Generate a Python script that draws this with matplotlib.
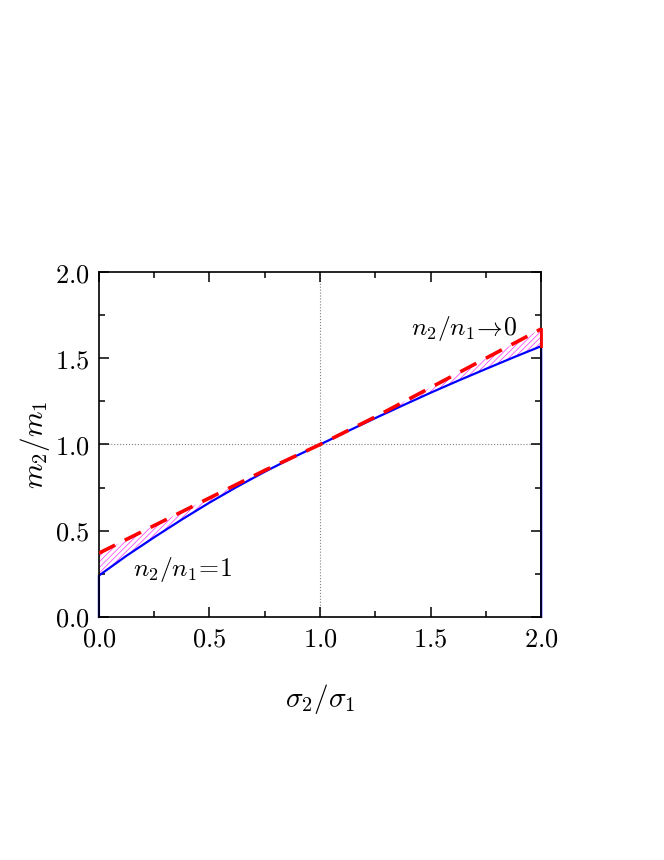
import matplotlib
matplotlib.use("Agg")
import matplotlib.pyplot as plt
from matplotlib.ticker import MultipleLocator, FormatStrFormatter

plt.rcParams["mathtext.fontset"] = "cm"
plt.rcParams["font.family"] = "serif"
plt.rcParams["hatch.linewidth"] = 0.4
plt.rcParams["hatch.color"] = "magenta"

# sigma2/sigma1
sigma_ratio = [0.0, 0.125, 0.25, 0.375, 0.5, 0.625, 0.75, 0.875, 1.0,
               1.125, 1.25, 1.375, 1.5, 1.625, 1.75, 1.875, 2.0]
# m2/m1 for n2/n1 = 1 (solid)
m_equal = [0.24, 0.355, 0.462, 0.565, 0.663, 0.755, 0.842, 0.923, 1.0,
           1.077, 1.153, 1.227, 1.30, 1.37, 1.438, 1.505, 1.57]
# m2/m1 for n2/n1 -> 0 (dashed)
m_limit = [0.37, 0.45, 0.53, 0.61, 0.69, 0.77, 0.85, 0.925, 1.0,
           1.08, 1.16, 1.245, 1.33, 1.415, 1.50, 1.585, 1.67]

fig = plt.figure(figsize=(6.64, 8.6), dpi=100)
ax = fig.add_axes([0.149, 0.2826, 0.666, 0.4011])

ax.axvline(1.0, color="gray", lw=0.8, ls=":", zorder=1)
ax.axhline(1.0, color="gray", lw=0.8, ls=":", zorder=1)

ax.fill_between(sigma_ratio, m_equal, m_limit, facecolor="none",
                hatch="//////", edgecolor="magenta", lw=0, zorder=2)

ax.plot([sigma_ratio[0]] + sigma_ratio + [sigma_ratio[-1]],
        [0.0] + m_equal + [0.0], color="blue", lw=1.6, zorder=2.4, clip_on=False)
ax.plot(sigma_ratio, m_limit, color="red", lw=2.6, ls=(0, (5, 3)), zorder=4)
ax.plot([sigma_ratio[-1], sigma_ratio[-1]], [m_equal[-1], m_limit[-1]],
        color="red", lw=2.0, zorder=4, clip_on=False)

ax.text(1.41, 1.67, r"$n_2/n_1\!\rightarrow\!0$", fontsize=18.5, va="center")
ax.text(0.155, 0.275, r"$n_2/n_1\!=\!1$", fontsize=18.5, va="center")

ax.set_xlim(0, 2)
ax.set_ylim(0, 2)
ax.xaxis.set_major_locator(MultipleLocator(0.5))
ax.xaxis.set_minor_locator(MultipleLocator(0.25))
ax.yaxis.set_major_locator(MultipleLocator(0.5))
ax.yaxis.set_minor_locator(MultipleLocator(0.25))
ax.xaxis.set_major_formatter(FormatStrFormatter("$%.1f$"))
ax.yaxis.set_major_formatter(FormatStrFormatter("$%.1f$"))
ax.tick_params(which="both", direction="in", top=True, right=True, labelsize=19, width=1.1)
ax.tick_params(which="major", length=7, pad=7)
ax.tick_params(which="minor", length=4)
for s in ax.spines.values():
    s.set_linewidth(1.2)

ax.set_xlabel(r"$\sigma_2/\sigma_1$", fontsize=21, labelpad=22)
ax.set_ylabel(r"$m_2/m_1$", fontsize=21, labelpad=2)

fig.savefig("out.png", dpi=100)
